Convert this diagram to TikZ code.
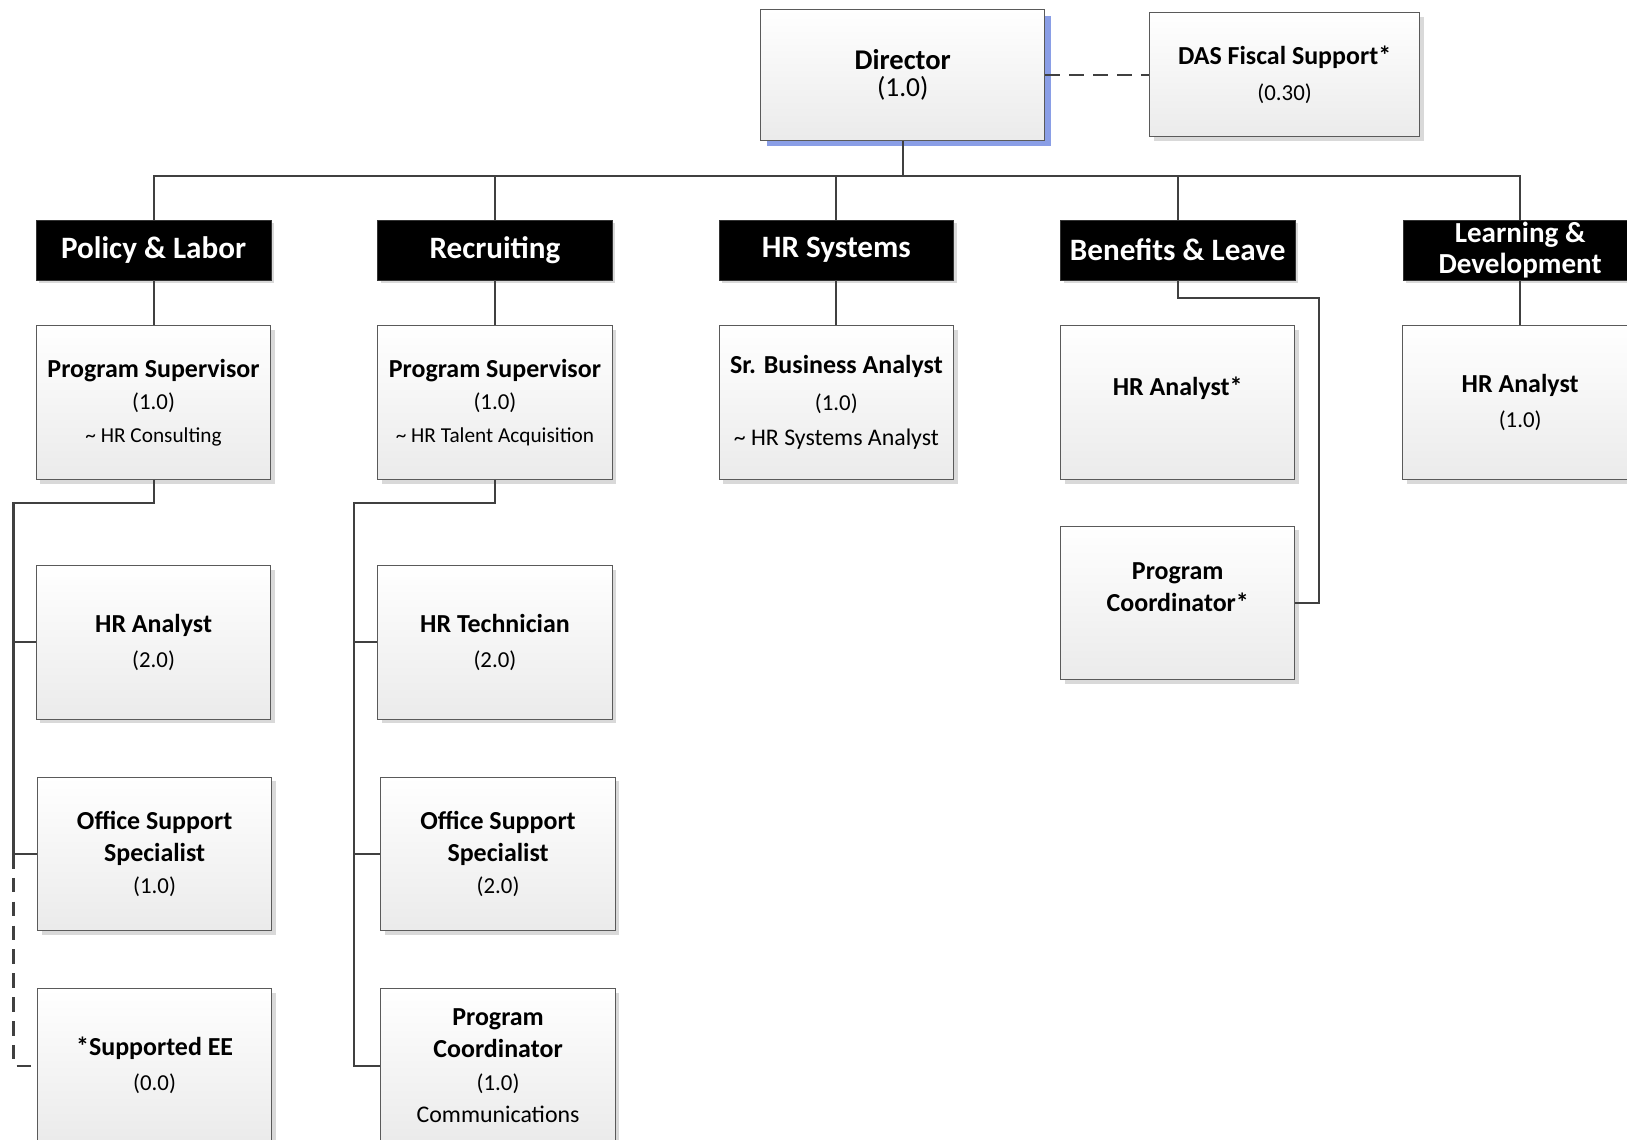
\documentclass[tikz,border=0pt]{standalone}
\usepackage{fontspec}
\setmainfont{Carlito}
\usepackage{xcolor}
\usepackage{tikz}
\usetikzlibrary{positioning,shadows,calc}

\definecolor{linegray}{HTML}{404040}
\definecolor{boxedge}{HTML}{5A5A5A}
\definecolor{dirshadow}{HTML}{8A9EE6}

\newcommand{\bt}{\fontsize{25}{31}\selectfont\bfseries}
\newcommand{\smt}{\fontsize{20.5}{31}\selectfont}
\newcommand{\mdt}{\fontsize{23}{31}\selectfont}

\tikzset{
  cardbox/.style={draw=boxedge, line width=1pt, top color=white, bottom color=black!8,
    minimum width=226pt, minimum height=148pt, align=center, inner sep=0pt,
    font=\fontsize{22}{31}\selectfont},
  posbox/.style={cardbox, drop shadow={shadow xshift=4pt, shadow yshift=-4pt, fill=black!15, opacity=1}},
  dirbox/.style={cardbox, drop shadow={shadow xshift=6pt, shadow yshift=-6pt, fill=dirshadow, opacity=1}},
  unithead/.style={fill=black, draw=black!80, text=white, minimum width=226pt, minimum height=58pt,
    align=center, inner sep=0pt, font=\fontsize{30}{30}\selectfont\bfseries,
    drop shadow={shadow xshift=3pt, shadow yshift=-3pt, fill=black!15, opacity=1}},
  link/.style={draw=linegray, line width=2pt},
}

\begin{document}
\begin{tikzpicture}[x=1pt, y=-1pt]
    \useasboundingbox (0,0) rectangle (1568,1098);
    \clip (0,0) rectangle (1568,1098);

    % Top
    \node[dirbox, minimum width=274pt, minimum height=126pt, font=\fontsize{26.5}{26}\selectfont] (dir) at (870,72)
        {{\fontsize{27.5}{26}\selectfont\bfseries Director}\\(1.0)};
    \node[posbox, minimum width=260pt, minimum height=120pt] (das) at (1238,72)
        {{\bt DAS Fiscal Support*}\\[3pt](0.30)};
    \draw[link, dash pattern=on 14pt off 9pt] (dir.east) -- (das.west);

    % Units
    \node[unithead] (hpl) at (148,241) {Policy \& Labor};
    \node[unithead] (hrc) at (477,241) {Recruiting};
    \node[unithead] (hsy) at (806,241) {HR Systems};
    \node[unithead] (hbl) at (1135,241) {Benefits \& Leave};
    \node[unithead, font=\fontsize{28}{30}\selectfont\bfseries] (hld) at (1465,241) {Learning \&\\Development};

    \coordinate (bus) at (870,170);
    \draw[link] (dir.south) -- (bus);
    \foreach \h in {hpl,hrc,hsy,hbl,hld}
        \draw[link] (bus) -| (\h.north);

    % Second row
    \node[posbox] (ps1) at (148,388) {{\bt Program Supervisor}\\(1.0)\\{\smt \textasciitilde{} HR Consulting}};
    \node[posbox] (ps2) at (477,388) {{\bt Program Supervisor}\\(1.0)\\{\smt \textasciitilde{} HR Talent Acquisition}};
    \node[posbox] (sba) at (806,388) {{\bt Sr. Business Analyst}\\[4pt](1.0)\\[3pt]{\mdt \textasciitilde{} HR Systems Analyst}};
    \node[posbox] (hab) at (1135,388) {{\bt HR Analyst*}\\\mbox{}};
    \node[posbox] (hal) at (1465,388) {{\bt HR Analyst}\\[3pt](1.0)};
    \foreach \a/\b in {hpl/ps1, hrc/ps2, hsy/sba, hld/hal}
        \draw[link] (\a.south) -- (\b.north);

    % Policy & Labor staff
    \node[posbox] (ha1) at (148,619) {{\bt HR Analyst}\\[3pt](2.0)};
    \node[posbox] (os1) at (149,823) {{\bt Office Support}\\{\bt Specialist}\\(1.0)};
    \node[posbox] (see) at (149,1027) {{\bt *Supported EE}\\[3pt](0.0)};
    \coordinate (pltrunk) at (13,485);
    \coordinate (plmid) at (13,823);
    \draw[link] (ps1.south) |- (pltrunk) |- (os1.west);
    \draw[link] (pltrunk) |- (ha1.west);
    \draw[link, dash pattern=on 14pt off 9pt] (plmid) |- (see.west);

    % Recruiting staff
    \node[posbox] (ht2) at (477,619) {{\bt HR Technician}\\[3pt](2.0)};
    \node[posbox] (os2) at (480,823) {{\bt Office Support}\\{\bt Specialist}\\(2.0)};
    \node[posbox] (pc2) at (480,1027) {{\bt Program}\\{\bt Coordinator}\\(1.0)\\{\mdt Communications}};
    \coordinate (rctrunk) at (341,485);
    \draw[link] (ps2.south) |- (rctrunk) |- (pc2.west);
    \draw[link] (rctrunk) |- (ht2.west);
    \draw[link] (rctrunk) |- (os2.west);

    % Benefits & Leave staff
    \node[posbox] (pcb) at (1135,581) {{\bt Program}\\{\bt Coordinator*}\\\mbox{}};
    \coordinate (bljog) at (1271,287);
    \draw[link] (hbl.south) |- (bljog) |- (pcb.east);
\end{tikzpicture}
\end{document}
